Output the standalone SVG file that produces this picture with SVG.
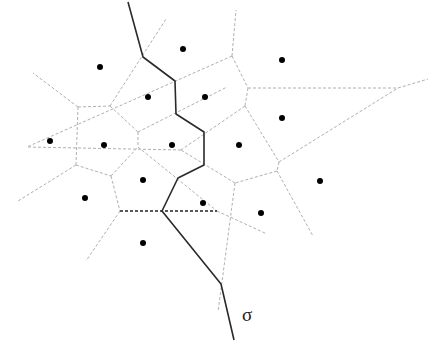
<svg xmlns="http://www.w3.org/2000/svg" width="442" height="348" viewBox="0 0 442 348">
<style>
.v{fill:none;stroke:#b0b0b0;stroke-width:1;stroke-dasharray:3 2}
.q{fill:none;stroke:#222;stroke-width:1.3;stroke-dasharray:3 2}
.s{fill:none;stroke:#2a2a2a;stroke-width:1.6;stroke-linejoin:round}
.p{fill:#000}
.lbl{font-family:"Liberation Serif",serif;font-size:19px;fill:#222}
</style>
<rect width="442" height="348" fill="#fff"/>
<g id="connectors">
<path class="v" d="M78,107 L33,73"/>
<path class="v" d="M78,107 L110,106"/>
<path class="v" d="M110,106 L166,19"/>
<path class="v" d="M110,106 L138,132"/>
<path class="v" d="M138,132 L138,147"/>
<path class="v" d="M138,132 L227,87"/>
<path class="v" d="M78,107 L76,165"/>
<path class="v" d="M76,165 L18,201"/>
<path class="v" d="M76,165 L111,176"/>
<path class="v" d="M111,176 L138,147"/>
<path class="v" d="M111,176 L120,211"/>
<path class="v" d="M138,147 L217,211"/>
<path class="v" d="M120,211 L86,261"/>
<path class="v" d="M217,211 L267,234"/>
<path class="v" d="M232,56 L236,10"/>
<path class="v" d="M232,56 L27,147"/>
<path class="v" d="M232,56 L248,88"/>
<path class="v" d="M248,88 L398,88"/>
<path class="v" d="M398,88 L428,79"/>
<path class="v" d="M248,88 L245,106"/>
<path class="v" d="M245,106 L181,150"/>
<path class="v" d="M245,106 L279,162"/>
<path class="v" d="M279,162 L398,88"/>
<path class="v" d="M279,162 L277,171"/>
<path class="v" d="M277,171 L235,183"/>
<path class="v" d="M277,171 L313,236"/>
<path class="v" d="M235,183 L181,150"/>
<path class="v" d="M235,183 L218,312"/>
<path class="v" d="M181,150 L27,147"/>
<path class="q" d="M120,211 L217,211"/>
<path id="sigma" class="s" d="M128,2 L143,57 L175,81 L176,114 L204,132 L204,165 L178,178 L162,211 L221,284 L234,340"/>
</g>
<g id="nA"><circle class="p" cx="183" cy="49" r="3"/></g>
<g id="nB"><circle class="p" cx="205" cy="97" r="3"/></g>
<g id="nC"><circle class="p" cx="282" cy="60" r="3"/></g>
<g id="nD"><circle class="p" cx="282" cy="118" r="3"/></g>
<g id="nE"><circle class="p" cx="239" cy="145" r="3"/></g>
<g id="nF"><circle class="p" cx="320" cy="181" r="3"/></g>
<g id="nG"><circle class="p" cx="203" cy="203" r="3"/></g>
<g id="nH"><circle class="p" cx="261" cy="213" r="3"/></g>
<g id="na"><circle class="p" cx="100" cy="67" r="3"/></g>
<g id="nb"><circle class="p" cx="148" cy="97" r="3"/></g>
<g id="nc"><circle class="p" cx="50" cy="141" r="3"/></g>
<g id="nd"><circle class="p" cx="104" cy="145" r="3"/></g>
<g id="nP"><circle class="p" cx="172" cy="145" r="3"/></g>
<g id="ne"><circle class="p" cx="85" cy="198" r="3"/></g>
<g id="nQ"><circle class="p" cx="143" cy="180" r="3"/></g>
<g id="nS"><circle class="p" cx="143" cy="243" r="3"/></g>
<g id="label"><text class="lbl" x="247" y="321" text-anchor="middle">σ</text></g>
</svg>
